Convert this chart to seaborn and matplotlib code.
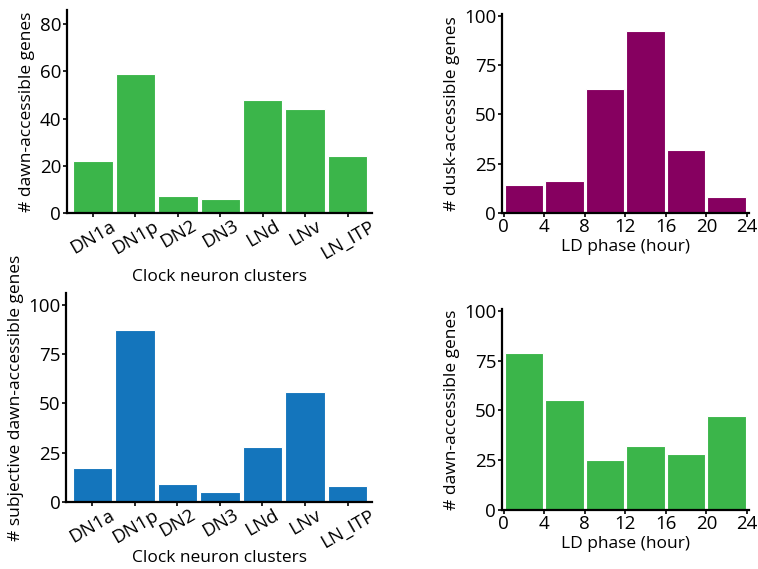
import matplotlib
matplotlib.use("Agg")
import matplotlib.pyplot as plt
import seaborn as sns
import numpy as np

# data
clusters = ["DN1a", "DN1p", "DN2", "DN3", "LNd", "LNv", "LN_ITP"]
dawn_by_cluster = [22, 59, 7, 6, 48, 44, 24]
subj_dawn_by_cluster = [17, 87, 9, 5, 28, 56, 8]

phase_bin_edges = [0, 4, 8, 12, 16, 20, 24]
phase_bin_centers = [2, 6, 10, 14, 18, 22]
dusk_by_phase = [14, 16, 63, 92, 32, 8]
dawn_by_phase = [79, 55, 25, 32, 28, 47]

GREEN = "#3bb54a"
BLUE = "#1475bc"
PURPLE = "#860060"

sns.set_theme(style="ticks")
plt.rcParams['font.family'] = ['Open Sans', 'DejaVu Sans']
plt.rcParams['font.weight'] = 'medium'
plt.rcParams['axes.labelweight'] = 'medium'
plt.rcParams['axes.linewidth'] = 1.6
plt.rcParams['xtick.major.width'] = 1.2
plt.rcParams['ytick.major.width'] = 1.2
plt.rcParams['xtick.major.size'] = 3
plt.rcParams['ytick.major.size'] = 3
plt.rcParams['xtick.color'] = 'black'
plt.rcParams['ytick.color'] = 'black'
plt.rcParams['axes.edgecolor'] = 'black'
plt.rcParams['text.color'] = 'black'
plt.rcParams['axes.labelcolor'] = 'black'

TICK_FS = 13.5
LABEL_FS = 12.5

fig = plt.figure(figsize=(7.58, 5.69), dpi=100)


def style_axes(ax):
    sns.despine(ax=ax)
    ax.tick_params(axis='both', labelsize=TICK_FS, pad=1)


def cluster_panel(rect, values, color, ylabel, yticks, ytop, xlabelpad):
    ax = fig.add_axes(rect)
    sns.barplot(x=clusters, y=values, color=color, width=0.93,
                edgecolor='white', linewidth=0.8, saturation=1, ax=ax)
    ax.set_xlim(-0.62, 6.58)
    ax.set_ylim(0, ytop)
    ax.set_yticks(yticks)
    style_axes(ax)
    ax.tick_params(axis='x', pad=0)
    ax.set_xticks(range(len(clusters)))
    ax.set_xticklabels(clusters, rotation=30, ha='center')
    ax.set_xlabel("Clock neuron clusters", fontsize=LABEL_FS, labelpad=xlabelpad)
    ax.set_ylabel(ylabel, fontsize=LABEL_FS, labelpad=3)
    return ax


def phase_panel(rect, values, color, ylabel):
    ax = fig.add_axes(rect)
    sns.histplot(x=phase_bin_centers, weights=values, bins=phase_bin_edges,
                 color=color, alpha=1, shrink=0.95, edgecolor='white',
                 linewidth=0.8, ax=ax)
    ax.set_xlim(-0.2, 24.2)
    ax.set_ylim(0, 101)
    ax.set_xticks(phase_bin_edges)
    ax.set_yticks([0, 25, 50, 75, 100])
    style_axes(ax)
    ax.set_xlabel("LD phase (hour)", fontsize=LABEL_FS, labelpad=2)
    ax.set_ylabel(ylabel, fontsize=LABEL_FS, labelpad=3)
    return ax


cluster_panel([0.088, 0.626, 0.403, 0.356], dawn_by_cluster, GREEN,
              "# dawn-accessible genes", [0, 20, 40, 60, 80], 86, 5)
cluster_panel([0.087, 0.118, 0.404, 0.367], subj_dawn_by_cluster, BLUE,
              "# subjective dawn-accessible genes", [0, 25, 50, 75, 100], 106, -1)
phase_panel([0.662, 0.626, 0.326, 0.350], dusk_by_phase, PURPLE,
            "# dusk-accessible genes")
phase_panel([0.662, 0.104, 0.326, 0.353], dawn_by_phase, GREEN,
            "# dawn-accessible genes")

fig.savefig("out.png", dpi=100)
